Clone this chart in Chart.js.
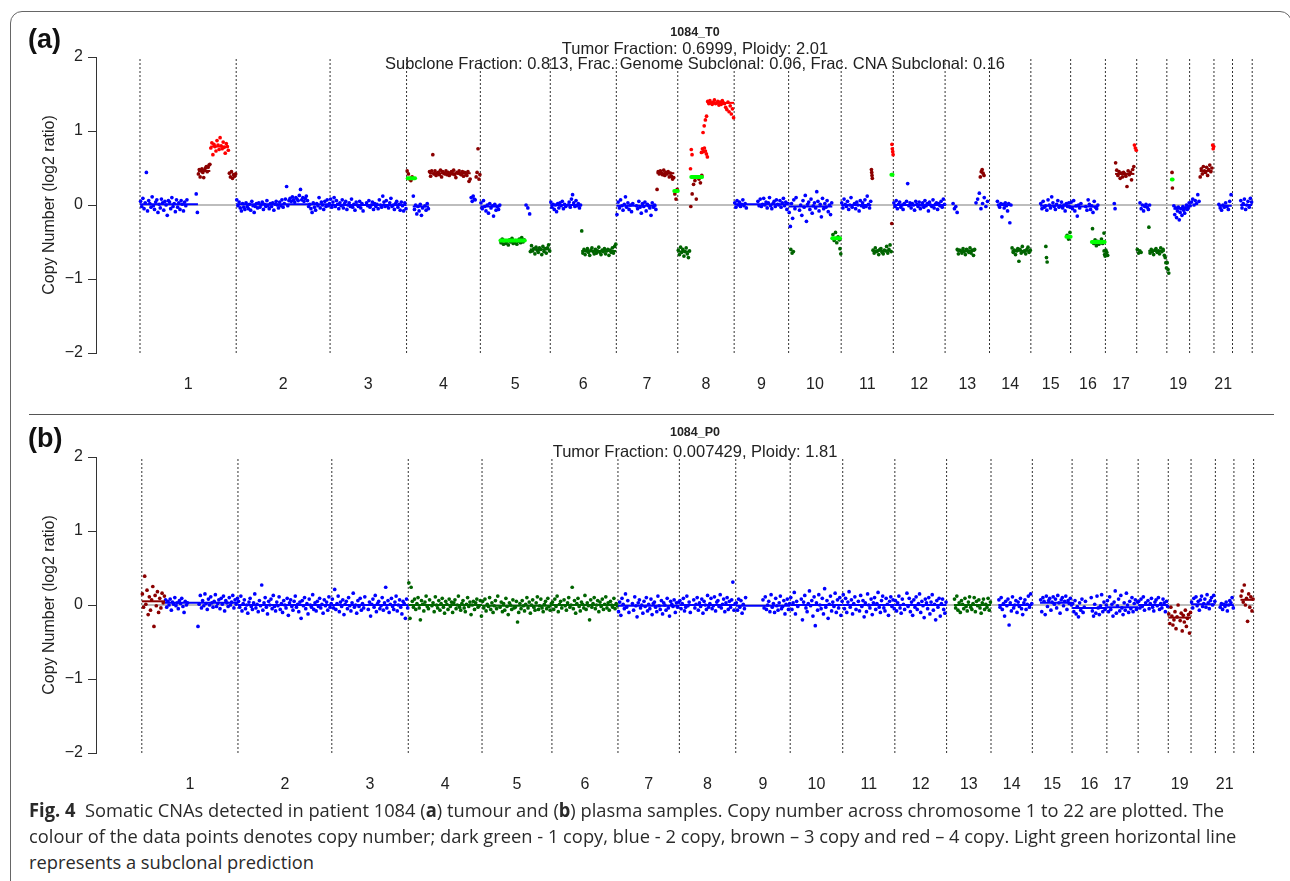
<!DOCTYPE html>
<html>
<head>
<meta charset="utf-8">
<script src="https://cdn.jsdelivr.net/npm/chart.js@4.4.1/dist/chart.umd.min.js"></script>
<style>
  body { margin: 0; background: #fff; width: 1290px; height: 881px; overflow: hidden; position: relative;
         font-family: "Liberation Sans", Arial, sans-serif; color: #222; }
  .frame { position: absolute; left: 10px; top: 11px; width: 1280px; height: 900px; border: 1.5px solid #666; border-radius: 12px; }
  .sep { position: absolute; left: 29px; top: 414px; width: 1245px; border-top: 1.5px solid #555; }
  canvas { position: absolute; left: 0; }
  .panel { position: absolute; left: 28px; font-weight: bold; font-size: 27px; line-height: 27px; color: #111; }
  .ttl { position: absolute; left: 0; width: 1390px; text-align: center; white-space: nowrap; }
  .t1 { font-weight: bold; font-size: 12.5px; line-height: 12.5px; }
  .t2 { font-size: 16.5px; line-height: 16.5px; }
  .cap { position: absolute; left: 29px; white-space: nowrap; font-family: "Open Sans", sans-serif; font-size: 19px;
         line-height: 19px; color: #2a2a2a; transform-origin: 0 0; }
</style>
</head>
<body>
<div class="frame"></div>
<div class="sep"></div>
<canvas id="chartA" width="1290" height="410" style="top:0"></canvas>
<canvas id="chartB" width="1290" height="410" style="top:400px"></canvas>

<div class="panel" style="top:26px">(a)</div>
<div class="ttl t1" style="top:26px">1084_T0</div>
<div class="ttl t2" style="top:40px">Tumor Fraction: 0.6999, Ploidy: 2.01</div>
<div class="ttl t2" style="top:55px">Subclone Fraction: 0.813, Frac. Genome Subclonal: 0.06, Frac. CNA Subclonal: 0.16</div>

<div class="panel" style="top:425px">(b)</div>
<div class="ttl t1" style="top:426px">1084_P0</div>
<div class="ttl t2" style="top:443px">Tumor Fraction: 0.007429, Ploidy: 1.81</div>

<div class="cap" style="top:801px"><b>Fig. 4</b>&nbsp; Somatic CNAs detected in patient 1084 (<b>a</b>) tumour and (<b>b</b>) plasma samples. Copy number across chromosome 1 to 22 are plotted. The</div>
<div class="cap" style="top:827px">colour of the data points denotes copy number; dark green - 1 copy, blue - 2 copy, brown – 3 copy and red – 4 copy. Light green horizontal line</div>
<div class="cap" style="top:853px">represents a subclonal prediction</div>

<script>
// chromosome layout (Mb, hg19)
const chrLengthMb = [249,243,198,191,181,171,159,146,141,136,135,134,115,107,103,90,81,78,59,63,48,51];
const chrTickLabels = ['1','2','3','4','5','6','7','8','9','10','11','12','13','14','15','16','17','','19','','21',''];
const yTickValues = [-2,-1,0,1,2];

// panel (a) 1084_T0 : segments, bins are deviations from segment log2 in 0.01 (x = filtered bin)
const segChrA  = [1,1,1,1, 2, 3, 4,4,4,4,4, 5,5,5,5, 6,6, 7,7,7, 8,8,8,8,8,8, 9, 10,10,10,10, 11,11,11,11,11, 12, 13,13,13,13, 14,14, 15,15,15, 16,16,16, 17,17,17,17, 18,18,18,18, 19,19,19, 20,20,20, 21, 22];
const segFromA = [0,150,182,230, 0, 0, 0,16,58,166,179, 0,52,116,128, 0,80, 0,104,150, 0,32,32,60,64,76, 0, 4,0,113,132, 0,78,81,131,130, 0, 19,30,78,90, 19,57, 24,38,92, 0,55,86, 0,22,25,74, 0,7,30,73, 0,13,17, 0,26,59, 11, 20];
const segToA   = [150,182,230,249, 243, 198, 16,58,166,179,191, 52,115,130,181, 80,171, 104,150,159, 32,38,64,78,76,146, 141, 14,113,133,136, 78,81,131,135,132, 134, 33,78,112,102, 57,107, 103,43,103, 72,88,90, 7,26,75,81, 13,35,73,78, 6,15,59, 26,59,63, 46, 51];
const segCopyA = [2,3,4,3, 2, 2, 3,2,3,2,3, 2,1,2,1, 2,1, 2,3,3, 1,4,3,4,4,4, 2, 1,2,1,1, 2,3,1,4,3, 2, 2,1,2,3, 2,1, 2,1,1, 2,1,1, 1,2,3,4, 1,2,1,1, 1,3,2, 2,3,4, 2, 2];
const segLog2A = [0.01,0.46,0.79,0.40, 0.01, 0.00, 0.39,-0.02,0.43,0.08,0.40, -0.02,-0.49,-0.04,-0.60, 0.00,-0.62, -0.01,0.43,0.19, -0.63,0.70,0.25,0.73,1.10,1.38, 0.01, -0.62,-0.02,-0.45,-0.62, 0.00,0.42,-0.62,0.75,-0.25, 0.00, -0.02,-0.62,0.04,0.43, 0.00,-0.62, -0.01,-0.68,-0.43, -0.02,-0.50,-0.64, -0.64,-0.02,0.42,0.77, -0.62,-0.02,-0.62,-0.76, -0.84,0.34,-0.05, 0.02,0.46,0.78, -0.01, 0.00];
const segBinsA = [
  "4 -3 8 -6 2 43 -9 5 1 -4 10 -2 -7 3 6 -11 0 -5 7 2 -8 4 -1 -15 5 3 -6 9 -3 1 -10 6 -4 2 -7 5 0 -9 3 -2 6 x x x x x x x 14 -11",
  "-4 2 -8 0 3 -2 -9 1 4 6 -1 5 8 9",
  "-2 5 -11 3 0 -6 8 2 -4 12 1 -3 6 -1 -9 4 0 -5",
  "3 -2 5 -4 1 -1 2",
  "6 -2 3 -5 -9 1 -4 -7 2 -3 -6 0 -8 4 -2 -11 -3 1 -5 2 -4 -1 3 -7 0 -3 5 -2 -6 1 -3 2 -8 0 4 -1 -5 3 -2 6 -4 1 7 24 -2 5 8 4 10 6 3 9 7 5 12 20 6 9 4 8 11 5 -3 0 -6 -11 2 -4 -8 1 -2 9 -5 3 -1 -7 4 -3 6 -2 1",
  "8 -3 4 10 -2 6 1 -5 3 -1 7 -4 2 5 -6 0 3 -2 8 -3 1 -7 4 0 -2 5 -4 2 -8 x x 3 -1 6 -3 0 4 -6 2 -2 1 -5 7 0 -3 12 4 -2 6 -1 -4 3 9 -2 0 -6 2 5 -3 1 -7 4 -1 -8 3 -5",
  "7 3 -4 -6 -1",
  "14 -4 2 -10 0 -6 3 -12 -2 x 1 -5 4 -3",
  "2 -4 3 25 -1 3 -3 0 1 -2 4 -5 2 0 -1 3 -2 1 -3 0 2 -1 4 -2 -6 1 0 3 -1 -2 2 -4 1 0 -3 2 -11 -8",
  "2 -3 4 0 -1",
  "-2 4 36 -5 1",
  "5 -3 8 0 -6 2 -9 4 -2 1 -13 3 -5 0 -4 2",
  "-2 3 -4 1 -3 0 -5 2 -1 4 -3 -2 1 -4 0 3 -2 5 -1 2",
  "4 0 -8",
  "-3 5 -2 1 -6 3 -1 -4 2 0 -7 4 -3 1 -5 2 6 -2",
  "4 -3 1 -6 0 -9 2 -4 3 -1 5 -5 1 -2 x 0 4 -3 8 14 3 -2 6 -1 2 -4 0",
  "27 -3 2 -5 0 3 -2 -6 1 4 -1 -4 2 -3 0 5 -2 -5 1 -1 3 -4 0 2 -6 1 -2 4 -3 6 9",
  "-12 5 -3 8 0 -6 2 12 -2 4 -5 1 -8 3 x x 0 -4 6 -2 -10 3 -1 5 -7 2 0 -3 -13 4 -2 1 -5",
  "-22 2 -1 3 0 -2 4 -3 1 -1 2 -5 0 -4 -8 -6",
  "-4 -11 2",
  "2 -4 6 -1 3 -6 0 5 -3 -8 1",
  "-21 5 -2",
  "-27 -10 3 8 -17 12 10 5 15",
  "-2 3 -1 4 0 -4 -8",
  "-12 -3 5 10",
  "2 -1 3 0 -2 1 4 -1 0 2 -3 1 -2 3 0 -1 -6 -9 1 -12 -4 -15 -8 -20",
  "2 -4 5 -1 3 -3 0 6 -2 1 -5 x x x x x x x x x 4 -2 7 -3 0 8 -1 3 -5 2 9 -2 -6 1 4 -3 6 0 -1 5 -4 2 8 -2 3 -7 1",
  "2 -3 -1",
  "-8 -27 4 -16 9 -3 12 x x -5 2 -12 8 -1 15 -20 3 6 -4 10 -9 1 5 -2 20 7 -6 3 -14 11 -3 4 -1 8 -7 2 -11 5",
  "5 -3 8 -6 2 -2",
  "3 -4",
  "3 -4 8 1 -2 5 -6 0 10 -3 x 2 -5 4 0 -8 6 -1 3 -3 7 -2 12 1 -4 5",
  "6 2 -2 -6",
  "1 -3 4 -1 0 -5 2 3 -2 -4 1 0 6 -3 2 8 -1",
  "7 1 -3 -7",
  "0",
  "3 -2 6 -5 1 4 -3 0 -6 2 x 5 29 -1 3 -4 2 0 -7 5 1 -2 4 -5 0 3 -3 6 -1 2 -8 4 0 -2 7 -4 1 3 -6 2 -1 5 -3 8 1",
  "4 -3 0 -8",
  "2 -4 1 0 -3 3 -1 -5 2 0 -2 4 -3 1 -6 2",
  "-1 4 12 -9 -2 6 -6 1",
  "-5 2 5 0 -3",
  "5 0 -3 2 -16 1 -4 3 -1 -8 2 -24 0",
  "4 -2 1 -5 0 3 -14 2 -3 6 -1 0 -4 2 5 -2 1",
  "3 -4 6 -2 0 -6 8 1 -3 12 4 -1 -5 2 7 -2 0 5 -3 1 -7 3 -1 4 -2",
  "12 -3 -9",
  "2 -3 6",
  "6 -3 8 -6 1 -13 2 -2 4 x x x 0 -5 9 3 -4 1 -8 7 -1 -3 2",
  "18 -2 3 -5 1 -3 0 4 -2 12",
  "2 -3 -5",
  "3 0 -4",
  "4 -3",
  "15 5 -2 3 -6 1 -4 2 0 -3 -17 4 -1 2 -8 6 10",
  "4 0 -3",
  "2 -3 0 -2",
  "5 -3 2 -6 0 3 -1 -4 2",
  "32 -3 2 -1 -5 1 3 -2 0 -4 4 -1 2 -6",
  "5 -2 -9",
  "6 -3 -8",
  "10 -11",
  "4 -8 1 -12 -3 2 -15 -5 0 -9 3 -2 -6 1 5 -1 3 8",
  "-3 2 6 -2 4 0 12 3",
  "-8 3 -4 6 0 -2 5 -6 2 8 -1 4",
  "3 -2 1",
  "2 -3 -6 1 -2 4 -1 -5 6 15",
  "6 -4 2 8 -6 0 5 -3 9 4"
];
// subclonal predictions (light green)
const subChrA  = [4, 5, 7, 8, 10, 11, 15, 16, 19];
const subFromA = [3, 52, 150, 35, 113, 130, 92, 55, 13];
const subToA   = [22, 115, 159, 63, 133, 133, 103, 88, 15];
const subLog2A = [0.36, -0.48, 0.19, 0.38, -0.45, 0.41, -0.43, -0.50, 0.345];

// panel (b) 1084_P0
const segChrB  = [1,1,2,3,4,5,6,7,8,9,10,11,12,13,14,15,16,17,18,19,20,21,22];
const segFromB = [0,60,0,0,0,0,0,0,0,0,0,0,0,19,19,20,0,0,0,0,0,11,17];
const segToB   = [60,249,243,198,191,181,171,159,146,141,136,135,134,115,107,103,90,81,78,59,63,48,51];
const segCopyB = [3,2,2,2,1,1,1,2,2,2,2,2,2,1,2,2,2,2,2,3,2,2,3];
const segLog2B = [0.05,0.03,0.00,0.00,0.00,-0.01,0.00,-0.01,0.00,-0.01,0.00,0.00,0.00,0.00,0.00,0.03,-0.04,-0.03,0.00,-0.17,0.01,0.00,0.07];
const segBinsB = [
  "10 -8 34 -4 15 -18 6 -12 2 20 -34 8 -6 13 -15 4 -9 11 -2 7",
  "4 -6 2 -3 5 -10 1 -2 7 -4 0 -8 3 -1 6 -5 -13 2 -3 0 x x x x x x x x -32 -2 10 -7 3 -4 12 -1 -9 5 -3 8 0 -6 2 11 -5 -1 4 -8 6 -2 9 -11 3 0 -5 7 -3 1 10 -7 4 -2 6",
  "5 -3 12 -8 2 7 -5 0 -11 4 9 -2 -6 3 15 -4 1 -9 6 -1 27 -7 3 10 -3 -12 5 0 8 -5 13 -2 -8 4 -1 11 -6 2 -10 6 0 -4 9 -14 3 7 -2 -7 5 12 -3 1 -9 4 -18 6 -1 10 -5 2 -12 8 0 -3 14 -6 3 -8 5 -2 9 -4 1 -11 7 -1 4 -7 11 -3 2",
  "8 -4 21 -6 2 12 -9 4 -2 7 -13 1 5 -5 10 -1 -8 3 16 -3 0 -11 6 -2 9 -7 2 -4 11 x x -6 4 -15 1 8 -3 13 -9 2 5 -5 -1 10 -7 3 24 -4 6 -10 1 9 -2 -6 4 12 -8 0 7 -3 -12 5 2 -18 8 -4",
  "30 -18 24 5 -3 8 -6 2 10 -4 -20 6 1 -8 4 12 -2 -5 7 x -1 3 -9 11 0 -4 6 -7 2 9 -3 -11 5 1 -6 8 -2 4 -10 3 7 -5 0 12 -3 -7 2 6 -4 -9 1 10 -2 4 -13 0 5 -6 3 8 -3 -1 6 -15",
  "6 -3 9 -7 2 -1 11 -5 4 -9 0 7 -4 13 x -2 5 -8 3 -6 10 -1 -12 4 1 -5 8 -3 -2 6 -22 -9 3 -4 7 0 -7 2 11 -3 5 -10 1 8 -2 -6 4 12 -5 0 9 -3 -8 2 6 -4 10 -1 -6 3",
  "4 -6 8 -2 12 -9 1 5 -4 x 7 -1 -7 3 10 -3 0 24 -5 6 -11 2 9 -2 -8 4 1 -4 13 -6 3 -1 -20 7 -3 2 10 -5 0 6 -9 4 -2 8 -6 1 11 -4 3 -7 5 0 -3 9 -5 2 -1",
  "-8 5 -13 10 2 -4 16 -2 7 -9 x x 3 -6 12 0 -15 4 8 -3 1 -10 6 -1 11 -7 2 -4 9 -12 3 5 -2 -8 13 0 -5 7 -11 4 1 -6 10 -3 -14 6 2 -1 8 -9 4 -2 5",
  "6 -5 2 9 -8 -3 12 -1 4 -10 x x 7 -4 1 10 -7 3 -2 8 -11 5 0 -6 13 -3 2 9 -5 -1 11 -8 4 6 -2 14 -4 1 8 -9 3 10 -6 5 -3 7 31 -7 2",
  "4 -6 9 -2 7 -10 2 -4 11 x x x x x x x x x x x x x x 8 -3 12 -5 1 6 -8 15 -2 3 -9 10 0 -6 4 13 -4 -1 7 -11 2 9 -5 3",
  "10 -6 3 17 -12 5 -2 x x 8 -20 4 13 -4 -9 2 19 -1 6 -15 11 -28 3 -7 14 0 -5 9 -12 22 -3 6 -18 1 12 -8 4 -2 16 -10 7 -4 10 -14 5",
  "14 -5 9 -10 4 18 -3 7 -12 2 11 -6 x 5 -8 13 -2 6 -16 3 -9 15 0 -4 8 -13 3 10 -6 2 17 -3 -10 6 12 -4 -8 9 1 -14 5 11 -2 7 -5",
  "6 -8 3 12 -4 -11 8 1 -6 x 16 -2 9 -9 4 -14 7 -3 11 -6 2 15 -10 5 -1 -17 8 3 -5 10 -12 4 14 -7 1 -20 6 -3 9 -15 2 8 -6 -11 4",
  "8 -4 12 -7 3 -10 6 1 -5 9 -2 -8 4 11 -3 -6 2 10 -9 5 -1 7 -4 -11 3 8 -6 1 -3 9 -7 4",
  "7 -3 10 -6 2 -15 5 -1 8 -27 3 -8 11 -4 0 6 -10 4 -2 9 -5 -13 3 7 -6 1 12 -3 15 2",
  "4 -12 7 2 -16 9 -5 3 6 -10 1 8 -2 5 -7 10 0 -14 4 7 -4 2 9 -9 3 -1 6 -3",
  "6 -5 10 -8 2 -12 7 -3 12 -6 1 9 x x x x 14 -4 -11 5 -7 16 0 -9 3 18 -5 8 -2 4",
  "9 -6 14 -3 4 -12 7 22 -8 2 11 -5 16 -1 -10 6 -4 19 3 -7 8 -2 13 -6 5 10 -3 7",
  "5 -4 8 -2 11 -7 3 x 6 -5 2 9 -3 -8 4 7 -1 10 -6 2 -4 8 3 -9 5 -2",
  "5 -8 14 2 -10 -3 8 -15 1 17 x -4 6 -18 3 -6 10 -12 -1 4 -21 7",
  "3 -5 8 x 10 -2 4 -8 6 11 -3 1 7 -4 13 2 -6 5 9 -1 12 4",
  "-3 2 -6 1 -2 4 -8 0 6 3 10 -4",
  "5 12 -3 20 -7 2 -29 8 -10 4 -15 1"
];

const cnColour = { 1: '#006400', 2: '#0000FF', 3: '#8B0000', 4: '#FF0000' };
const subColour = '#00FF00';

Chart.defaults.font.family = '"Liberation Sans", Arial, sans-serif';
Chart.defaults.color = '#222';

const chrStartMb = [];
chrLengthMb.forEach((len, i) => chrStartMb.push(i ? chrStartMb[i - 1] + chrLengthMb[i - 1] : 0));
const genomeEnd = chrStartMb[21] + chrLengthMb[21];

function buildDatasets(chr, from, to, copy, log2, bins, sub) {
  const pts = { 1: [], 2: [], 3: [], 4: [] };
  const sets = [];
  // chromosome boundaries
  chrStartMb.concat([genomeEnd]).forEach(b => sets.push({
    data: [{ x: b, y: -2 }, { x: b, y: 2 }], showLine: true, pointRadius: 0,
    borderColor: '#333', borderWidth: 1, borderDash: [2, 2], order: 10
  }));
  sets.push({ data: [{ x: 0, y: 0 }, { x: genomeEnd, y: 0 }], showLine: true, pointRadius: 0,
    borderColor: '#bdbdbd', borderWidth: 2, order: 9 });
  chr.forEach((c, s) => {
    const dev = bins[s].trim().split(/\s+/);
    const off = chrStartMb[c - 1];
    const step = (to[s] - from[s]) / dev.length;
    dev.forEach((d, i) => {
      if (d === 'x') return;
      pts[copy[s]].push({ x: off + from[s] + (i + 0.5) * step, y: log2[s] + Number(d) / 100 });
    });
    if (dev.length >= 10) {
      sets.push({ data: [{ x: off + from[s], y: log2[s] }, { x: off + to[s], y: log2[s] }], showLine: true,
        pointRadius: 0, borderColor: cnColour[copy[s]], borderWidth: 2, order: 3 });
    }
  });
  [1, 2, 3, 4].forEach(k => sets.push({ data: pts[k], pointRadius: 1.85, pointBorderWidth: 0,
    pointBackgroundColor: cnColour[k], backgroundColor: cnColour[k], order: 5 }));
  if (sub) {
    sub.chr.forEach((c, s) => {
      const off = chrStartMb[c - 1];
      sets.push({ data: [{ x: off + sub.from[s], y: sub.log2[s] }, { x: off + sub.to[s], y: sub.log2[s] }],
        showLine: true, pointRadius: 0, borderColor: subColour, borderWidth: 4, borderCapStyle: 'round', order: 1 });
    });
  }
  return sets;
}

function makeChart(id, datasets, xMin, xMax) {
  return new Chart(document.getElementById(id), {
    type: 'scatter',
    data: { datasets },
    options: {
      responsive: false, animation: false, events: [],
      layout: { padding: { left: 36, right: 14, top: 57, bottom: 7 } },
      plugins: { legend: { display: false }, tooltip: { enabled: false } },
      scales: {
        x: {
          type: 'linear', min: xMin, max: xMax,
          grid: { display: false, drawTicks: false }, border: { display: false },
          afterBuildTicks: s => { s.ticks = chrStartMb.map((st, i) => ({ value: st + chrLengthMb[i] / 2 })); },
          afterFit: s => { s.height = 50; },
          ticks: { autoSkip: false, maxRotation: 0, padding: 22, font: { size: 16 }, color: '#222',
                   callback: (v, i) => chrTickLabels[i] }
        },
        y: {
          min: -2, max: 2,
          afterBuildTicks: s => { s.ticks = yTickValues.map(v => ({ value: v })); },
          afterFit: s => { s.width = 60; },
          grid: { drawOnChartArea: false, drawTicks: true, tickLength: 8, color: '#333' },
          border: { display: true, color: '#333', width: 1 },
          ticks: { padding: 5, font: { size: 16 }, color: '#222',
                   callback: v => v < 0 ? '\u2212' + Math.abs(v) : String(v) },
          title: { display: true, text: 'Copy Number (log2 ratio)', font: { size: 16 }, color: '#222',
                   padding: { top: 4, bottom: 4 } }
        }
      }
    }
  });
}

makeChart('chartA', buildDatasets(segChrA, segFromA, segToA, segCopyA, segLog2A, segBinsA,
  { chr: subChrA, from: subFromA, to: subToA, log2: subLog2A }), -113.9, 2940.6);
makeChart('chartB', buildDatasets(segChrB, segFromB, segToB, segCopyB, segLog2B, segBinsB, null), -118.6, 2937);

// fit caption width to the figure text block
const caps = document.querySelectorAll('.cap');
const k = 1195 / caps[0].getBoundingClientRect().width;
caps.forEach(el => { el.style.transform = 'scaleX(' + k.toFixed(4) + ')'; });
</script>
</body>
</html>
